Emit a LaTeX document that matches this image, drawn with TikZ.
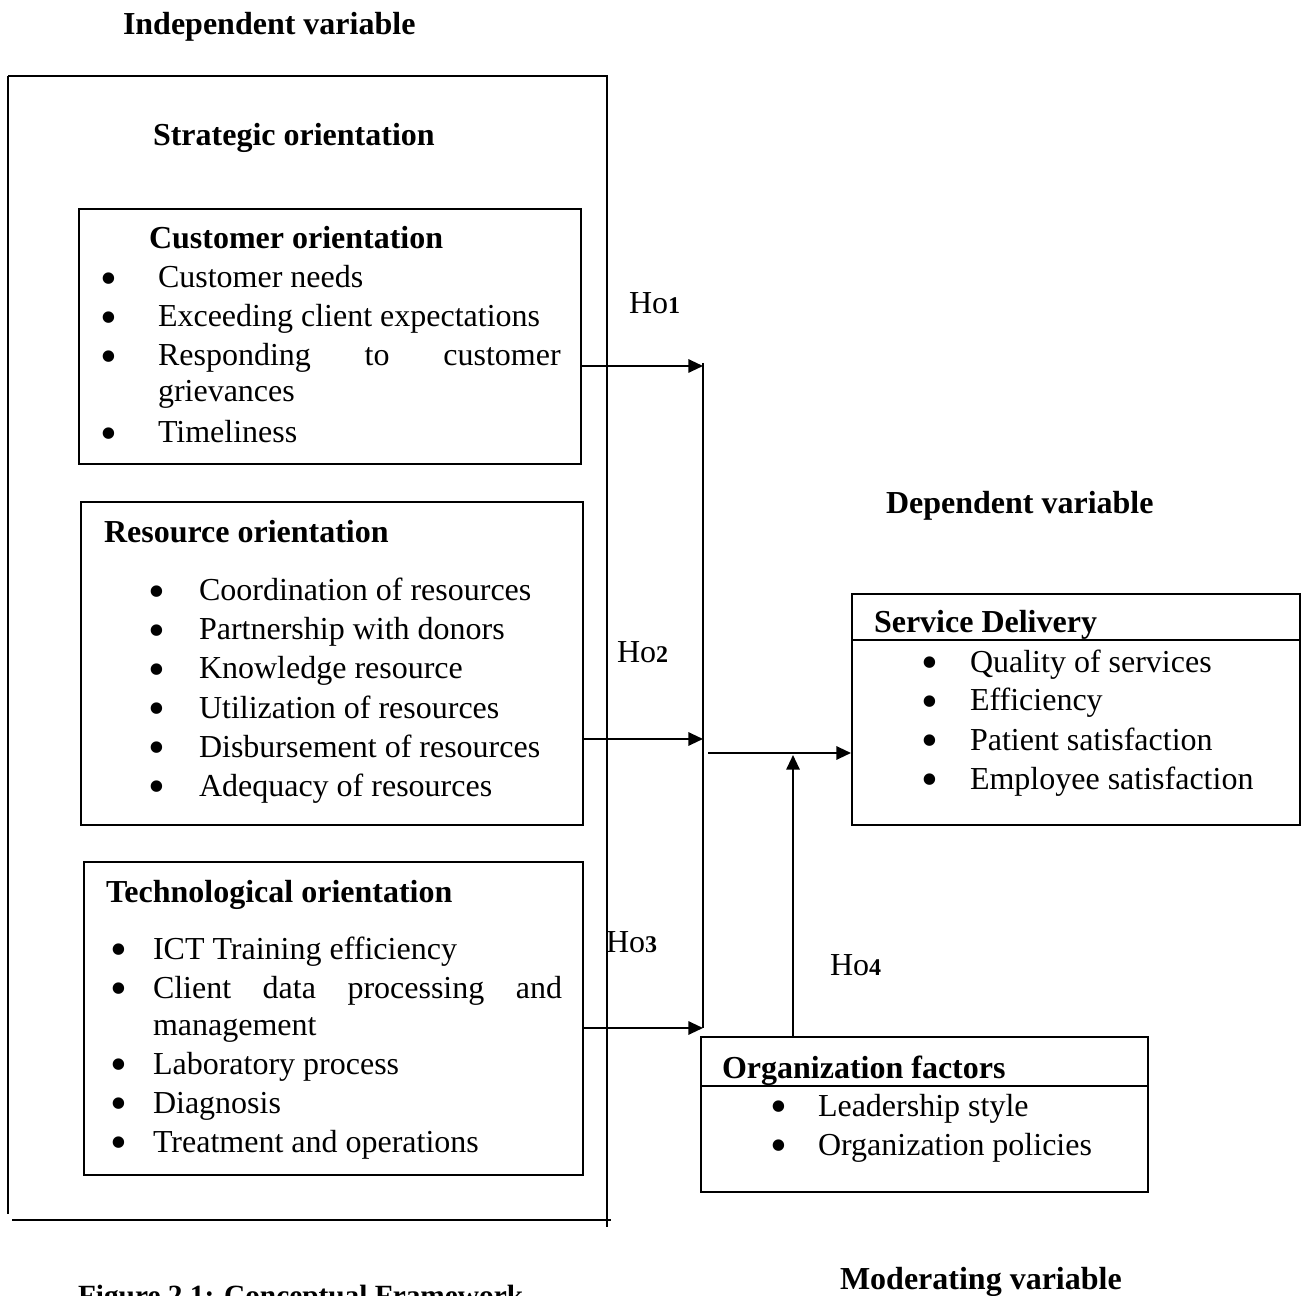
\documentclass[tikz,border=0pt]{standalone}
\usepackage{fontspec}
\setmainfont{Liberation Serif}
\usetikzlibrary{arrows.meta,fit}
\begin{document}
\begin{tikzpicture}[x=0.375pt,y=-0.375pt, line width=0.75pt,
  box/.style={draw, inner sep=0pt, line width=0.75pt},
  txt/.style={anchor=base west, inner sep=0pt, font=\fontsize{12}{14}\selectfont},
  hd/.style={anchor=base west, inner sep=0pt, font=\fontsize{12}{14}\selectfont\bfseries},
  bul/.style={anchor=base, inner sep=0pt, yshift=-2.6pt, font=\fontsize{18}{18}\selectfont},
  hol/.style={anchor=base west, inner sep=0pt, font=\fontsize{12}{14}\selectfont},
  arr/.style={-{Triangle[length=5.5pt,width=5pt]}, line width=0.75pt}]
\useasboundingbox (0,0) rectangle (1309,1296);

% outer frame
\draw[line width=0.9pt] (8,76) -- (8,1214);
\draw[line width=0.9pt] (8,76) -- (607,76) -- (607,1227);
\draw[line width=0.9pt] (12,1220) -- (611,1220);

% boxes
\node[box, fit={(79,209)(581,464)}] (cust) {};
\node[box, fit={(81,502)(583,825)}] (res) {};
\node[box, fit={(84,862)(583,1175)}] (tech) {};
\node[box, fit={(852,594)(1300,825)}] (svc) {};
\node[box, fit={(701,1037)(1148,1192)}] (org) {};
\draw (svc.west |- 0,640) -- (svc.east |- 0,640);
\draw (org.west |- 0,1086) -- (org.east |- 0,1086);

% headings
\node[hd] (hind) at (122,35) {Independent variable};
\node[hd] (hstr) at (152,146) {Strategic orientation};
\node[hd] (hdep) at (885,514) {Dependent variable};
\node[hd] (hmod) at (839,1289) {Moderating variable};
\node[anchor=base west, inner sep=0pt, font=\fontsize{11}{13}\selectfont\bfseries] (hfig) at (77,1305) {Figure 2.1: Conceptual Framework};

% customer orientation
\node[hd] (ct) at (148,249) {Customer orientation};
\node[bul] (cb1) at (109,288) {\smash{•}};
\node[txt] (c1) at (157,288) {Customer needs};
\node[bul] (cb2) at (109,327) {\smash{•}};
\node[txt] (c2) at (157,327) {Exceeding client expectations};
\node[bul] (cb3) at (109,366) {\smash{•}};
\node[txt] (c3) at (157,366) {\hbox to 151pt{Responding\hfill to\hfill customer}};
\node[txt] (c3b) at (157,402) {grievances};
\node[bul] (cb4) at (109,443) {\smash{•}};
\node[txt] (c4) at (157,443) {Timeliness};

% resource orientation
\node[hd] (rt) at (103,543) {Resource orientation};
\foreach \y/\t [count=\i] in {601/Coordination of resources,640/Partnership with donors,679/Knowledge resource,718/Utilization of resources,757/Disbursement of resources,796/Adequacy of resources}{
  \node[bul] (rb\i) at (157,\y) {\smash{•}};
  \node[txt] (r\i) at (198,\y) {\t};
}

% technological orientation
\node[hd] (tt) at (105,902) {Technological orientation};
\node[bul] (tb1) at (119,959) {\smash{•}};
\node[txt] (t1) at (152,959) {ICT Training efficiency};
\node[bul] (tb2) at (119,998) {\smash{•}};
\node[txt] (t2) at (152,998) {\hbox to 153.4pt{Client\hfill data\hfill processing\hfill and}};
\node[txt] (t2b) at (152,1035) {management};
\node[bul] (tb3) at (119,1074) {\smash{•}};
\node[txt] (t3) at (152,1074) {Laboratory process};
\node[bul] (tb4) at (119,1113) {\smash{•}};
\node[txt] (t4) at (152,1113) {Diagnosis};
\node[bul] (tb5) at (119,1152) {\smash{•}};
\node[txt] (t5) at (152,1152) {Treatment and operations};

% service delivery
\node[hd] (st) at (873,633) {Service Delivery};
\foreach \y/\t [count=\i] in {672/Quality of services,711/Efficiency,750/Patient satisfaction,789/Employee satisfaction}{
  \node[bul] (sb\i) at (930,\y) {\smash{•}};
  \node[txt] (s\i) at (969,\y) {\t};
}

% organization factors
\node[hd] (ot) at (721,1078) {Organization factors};
\node[bul] (ob1) at (779,1116) {\smash{•}};
\node[txt] (o1) at (817,1116) {Leadership style};
\node[bul] (ob2) at (779,1155) {\smash{•}};
\node[txt] (o2) at (817,1155) {Organization policies};

% hypothesis labels
\node[hol] (ho1) at (628,314) {Ho{\fontsize{9}{9}\selectfont\bfseries 1}};
\node[hol] (ho2) at (616,662) {Ho{\fontsize{9}{9}\selectfont\bfseries 2}};
\node[hol] (ho3) at (605,952) {Ho{\fontsize{9}{9}\selectfont\bfseries 3}};
\node[hol] (ho4) at (829,975) {Ho{\fontsize{9}{9}\selectfont\bfseries 4}};

% connectors
\coordinate (jtop) at (703,363);
\coordinate (j1) at (703,366);
\coordinate (j2) at (703,739);
\coordinate (j3) at (703,1028);
\coordinate (mout) at (708,753);
\coordinate (m4) at (793,755);
\draw (jtop) -- (j3);
\draw[arr] (cust.east |- j1) -- (j1);
\draw[arr] (res.east |- j2) -- (j2);
\draw[arr] (tech.east |- j3) -- (j3);
\draw[arr] (mout) -- (svc.west |- mout);
\draw[arr] (org.north -| m4) -- (m4);
\end{tikzpicture}
\end{document}
